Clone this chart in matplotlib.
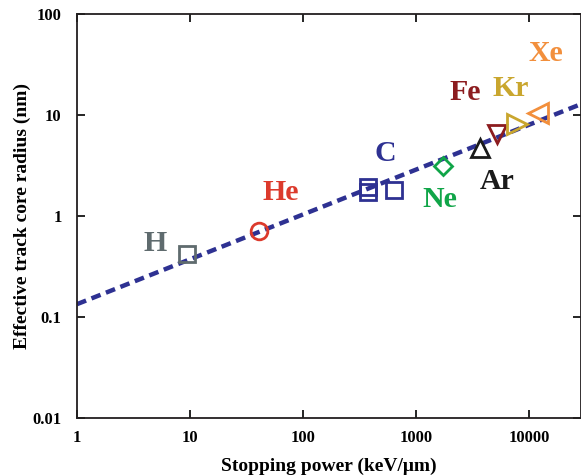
import matplotlib
matplotlib.use('Agg')
import matplotlib.pyplot as plt
import numpy as np
from matplotlib import rcParams

#---- style ----#
rcParams.update({
    'font.family': 'serif',
    'font.serif': ['Liberation Serif', 'DejaVu Serif'],
    'font.weight': 'bold',
    'axes.linewidth': 1.3,
    'axes.edgecolor': '#231f20',
    'xtick.direction': 'in',
    'ytick.direction': 'in',
    'xtick.top': True,
    'ytick.right': True,
    'xtick.major.size': 6,
    'ytick.major.size': 6,
    'xtick.major.width': 1.2,
    'ytick.major.width': 1.2,
    'xtick.minor.visible': False,
    'ytick.minor.visible': False,
})

#---- data (stopping power keV/um, core radius nm) ----#
ions = ['H', 'He', 'C', 'C', 'C', 'Ne', 'Ar', 'Fe', 'Kr', 'Xe']
stopping = [9.4, 41, 376, 376, 640, 1740, 3680, 5210, 7830, 12000]
radius = [0.42, 0.71, 1.94, 1.73, 1.81, 3.13, 4.71, 6.5, 8.1, 10.5]
markers = ['s', 'o', 's', 's', 's', 'D', '^', 'v', '>', '<']

# fitted line end points
fit_x = [1, 28800]
fit_y = [0.134, 12.8]

colors = {'H': '#5f6b6e', 'He': '#dc3a2c', 'C': '#2e3192', 'Ne': '#10a548',
          'Ar': '#1a1a1a', 'Fe': '#8c1c1f', 'Kr': '#c9a62e', 'Xe': '#f28f3c'}
msizes = {'s': 12, 'o': 12, 'D': 9, '^': 13, 'v': 13, '>': 14, '<': 14}

fig = plt.figure(figsize=(5.81, 4.75), dpi=100)
ax = fig.add_axes([77/581, 57/475, 504/581, 404/475])

ax.plot(fit_x, fit_y, color='#2e3192', lw=3.2, ls=(0, (2.2, 1.3)), zorder=2)

for ion, s, r, m in zip(ions, stopping, radius, markers):
    ax.plot(s, r, marker=m, ms=msizes[m], mfc='none', mec=colors[ion],
            mew=2.0, ls='none', zorder=3)

# ion labels
labels = [('H', 4.9, 0.53), ('He', 63, 1.69), ('C', 532, 4.2), ('Ne', 1630, 1.47),
          ('Ar', 5210, 2.22), ('Fe', 2710, 16.6), ('Kr', 6900, 18.5), ('Xe', 14100, 41)]
for name, lx, ly in labels:
    ax.text(lx, ly, name, color=colors[name], fontsize=21.5, fontweight='bold',
            ha='center', va='center')

ax.set_xscale('log')
ax.set_yscale('log')
ax.set_xlim(1, 10**(504/113))
ax.set_ylim(0.01, 100)
ax.set_xticks([1, 10, 100, 1000, 10000])
ax.set_xticklabels(['1', '10', '100', '1000', '10000'])
ax.set_yticks([0.01, 0.1, 1, 10, 100])
ax.set_yticklabels(['0.01', '0.1', '1', '10', '100'])
ax.minorticks_off()
ax.tick_params(axis='x', labelsize=12, pad=9)
ax.tick_params(axis='y', labelsize=12, pad=11)
for lab in ax.get_xticklabels() + ax.get_yticklabels():
    lab.set_fontweight('bold')

ax.set_xlabel('Stopping power (keV/\u03bcm)', fontsize=14, fontweight='bold', labelpad=8)
ax.set_ylabel('Effective track core radius (nm)', fontsize=14, fontweight='bold', labelpad=1)

plt.savefig('out.png', dpi=100)
